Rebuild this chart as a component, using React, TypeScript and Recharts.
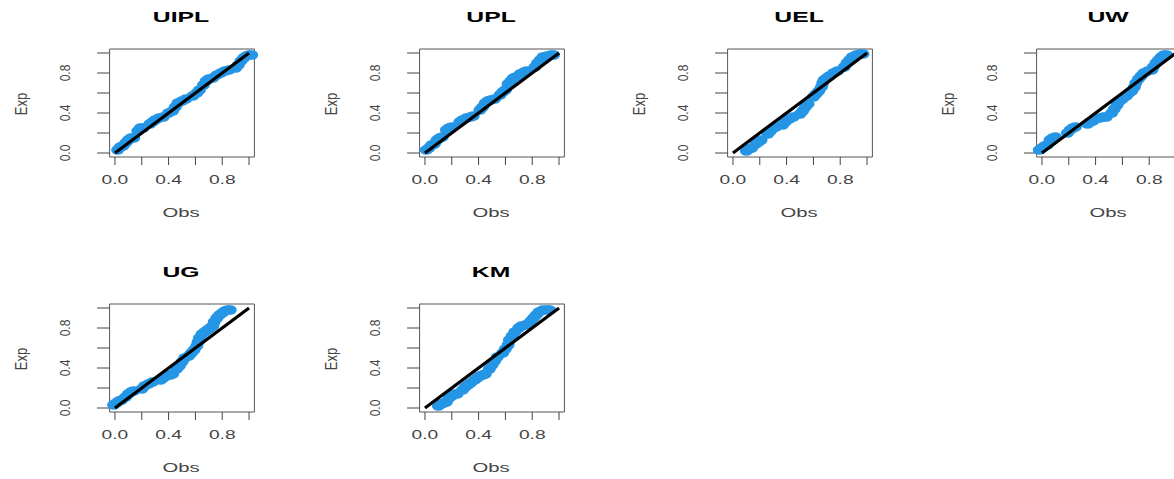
import React from "react";
import { ScatterChart, Scatter, XAxis, YAxis, ReferenceArea } from "recharts";

// P-P plots: observed vs expected probabilities per model
const uiplObs = [0.02, 0.04, 0.06, 0.08, 0.1, 0.12, 0.14, 0.17, 0.19, 0.21, 0.26, 0.28, 0.3, 0.33, 0.36, 0.4, 0.43, 0.45, 0.47, 0.5, 0.53, 0.58, 0.61, 0.63, 0.66, 0.68, 0.7, 0.73, 0.76, 0.79, 0.82, 0.85, 0.9, 0.92, 0.94, 0.96, 0.98, 1.0, 1.02];
const uiplExp = [0.03, 0.06, 0.07, 0.1, 0.13, 0.15, 0.15, 0.22, 0.25, 0.25, 0.29, 0.31, 0.33, 0.35, 0.36, 0.4, 0.42, 0.46, 0.5, 0.52, 0.54, 0.57, 0.6, 0.63, 0.68, 0.72, 0.74, 0.75, 0.78, 0.8, 0.82, 0.83, 0.85, 0.88, 0.92, 0.95, 0.97, 0.98, 0.98];

const uplObs = [0.01, 0.03, 0.05, 0.07, 0.09, 0.11, 0.13, 0.16, 0.18, 0.2, 0.26, 0.28, 0.31, 0.34, 0.36, 0.41, 0.43, 0.45, 0.47, 0.49, 0.52, 0.56, 0.58, 0.6, 0.62, 0.64, 0.66, 0.68, 0.71, 0.74, 0.76, 0.82, 0.84, 0.86, 0.88, 0.91, 0.94, 0.96];
const uplExp = [0.03, 0.05, 0.08, 0.09, 0.13, 0.15, 0.16, 0.23, 0.25, 0.26, 0.31, 0.33, 0.35, 0.36, 0.37, 0.43, 0.46, 0.5, 0.52, 0.53, 0.54, 0.58, 0.61, 0.63, 0.69, 0.72, 0.75, 0.76, 0.79, 0.81, 0.82, 0.86, 0.9, 0.93, 0.96, 0.97, 0.98, 0.98];

const uelObs = [0.1, 0.12, 0.14, 0.17, 0.19, 0.21, 0.26, 0.28, 0.3, 0.32, 0.37, 0.39, 0.42, 0.45, 0.5, 0.52, 0.54, 0.56, 0.6, 0.62, 0.64, 0.66, 0.67, 0.68, 0.7, 0.72, 0.75, 0.78, 0.83, 0.85, 0.87, 0.89, 0.92, 0.95, 0.97];
const uelExp = [0.02, 0.04, 0.05, 0.09, 0.11, 0.13, 0.19, 0.22, 0.25, 0.26, 0.28, 0.31, 0.34, 0.36, 0.39, 0.42, 0.46, 0.49, 0.56, 0.59, 0.62, 0.66, 0.7, 0.73, 0.75, 0.77, 0.8, 0.82, 0.86, 0.9, 0.93, 0.96, 0.98, 0.99, 0.99];

const uwObs = [-0.02, 0.0, 0.02, 0.04, 0.06, 0.08, 0.1, 0.19, 0.21, 0.23, 0.25, 0.34, 0.36, 0.38, 0.4, 0.43, 0.46, 0.48, 0.52, 0.54, 0.56, 0.58, 0.6, 0.63, 0.65, 0.67, 0.69, 0.7, 0.72, 0.74, 0.76, 0.79, 0.82, 0.83, 0.85, 0.87, 0.89, 0.91, 0.93];
const uwExp = [0.03, 0.05, 0.07, 0.08, 0.13, 0.15, 0.16, 0.2, 0.23, 0.25, 0.26, 0.29, 0.31, 0.32, 0.34, 0.35, 0.36, 0.36, 0.4, 0.44, 0.48, 0.52, 0.54, 0.57, 0.6, 0.62, 0.66, 0.7, 0.74, 0.77, 0.8, 0.82, 0.83, 0.86, 0.9, 0.93, 0.96, 0.98, 0.98];

const ugObs = [-0.01, 0.01, 0.03, 0.05, 0.08, 0.1, 0.12, 0.14, 0.2, 0.22, 0.25, 0.28, 0.34, 0.36, 0.38, 0.41, 0.43, 0.46, 0.48, 0.5, 0.52, 0.55, 0.57, 0.59, 0.61, 0.62, 0.63, 0.65, 0.67, 0.69, 0.71, 0.73, 0.74, 0.76, 0.78, 0.8, 0.82, 0.84, 0.86];
const ugExp = [0.03, 0.05, 0.07, 0.08, 0.11, 0.14, 0.16, 0.17, 0.19, 0.22, 0.24, 0.26, 0.28, 0.3, 0.32, 0.33, 0.34, 0.39, 0.42, 0.46, 0.5, 0.52, 0.55, 0.58, 0.62, 0.66, 0.7, 0.74, 0.76, 0.78, 0.8, 0.82, 0.86, 0.9, 0.93, 0.95, 0.97, 0.98, 0.98];

const kmObs = [0.1, 0.12, 0.14, 0.16, 0.18, 0.2, 0.22, 0.24, 0.28, 0.3, 0.32, 0.34, 0.37, 0.39, 0.41, 0.43, 0.45, 0.48, 0.5, 0.52, 0.54, 0.58, 0.6, 0.62, 0.63, 0.65, 0.67, 0.7, 0.72, 0.75, 0.77, 0.79, 0.81, 0.83, 0.85, 0.88, 0.91, 0.93];
const kmExp = [0.02, 0.04, 0.05, 0.06, 0.1, 0.12, 0.14, 0.14, 0.18, 0.21, 0.23, 0.25, 0.28, 0.3, 0.32, 0.33, 0.34, 0.39, 0.43, 0.47, 0.51, 0.55, 0.59, 0.63, 0.68, 0.72, 0.76, 0.8, 0.82, 0.83, 0.84, 0.87, 0.9, 0.93, 0.96, 0.98, 0.98, 0.98];

const panels = [
  { title: "UIPL", obs: uiplObs, exp: uiplExp },
  { title: "UPL", obs: uplObs, exp: uplExp },
  { title: "UEL", obs: uelObs, exp: uelExp },
  { title: "UW", obs: uwObs, exp: uwExp },
  { title: "UG", obs: ugObs, exp: ugExp },
  { title: "KM", obs: kmObs, exp: kmExp },
];

const ticks = [0, 0.2, 0.4, 0.6, 0.8, 1];
const labeledTicks = [0, 0.4, 0.8];
const diagonal = [{ x: 0, y: 0 }, { x: 1, y: 1 }];

const FONT = "'Liberation Sans', Arial, Helvetica, sans-serif";
const BLUE = "#2596e6";
const INK = "#444";

const PANEL_W = 309;
const PANEL_H = 255;
const colLeft = [0, 310, 618, 927];
const rowTop = [0, 255];

function XTick(props: any) {
  const { x, y, payload } = props;
  if (!labeledTicks.includes(payload.value)) return null;
  return (
    <text
      transform={`translate(${x},${y + 19}) scale(1.6,1)`}
      textAnchor="middle"
      fontSize={12}
      fontFamily={FONT}
      fill={INK}
    >
      {payload.value.toFixed(1)}
    </text>
  );
}

function YTick(props: any) {
  const { x, y, payload } = props;
  if (!labeledTicks.includes(payload.value)) return null;
  return (
    <text
      transform={`translate(${x - 27},${y}) scale(1.15,1) rotate(-90)`}
      textAnchor="middle"
      fontSize={12}
      fontFamily={FONT}
      fill={INK}
    >
      {payload.value.toFixed(1)}
    </text>
  );
}

function Blob(props: any) {
  const { cx, cy } = props;
  return <ellipse cx={cx} cy={cy} rx={6.5} ry={4.8} fill={BLUE} />;
}

function Panel({ title, obs, exp }: { title: string; obs: number[]; exp: number[] }) {
  const data = obs.map((o, i) => ({ x: o, y: exp[i] }));
  return (
    <div style={{ position: "relative", width: PANEL_W, height: PANEL_H }}>
      <ScatterChart
        width={PANEL_W}
        height={PANEL_H}
        margin={{ top: 49, right: 54.6, bottom: 58, left: 49.6 }}
      >
        <XAxis
          type="number"
          dataKey="x"
          domain={[-0.04, 1.04]}
          ticks={ticks}
          axisLine={false}
          tickLine={{ stroke: INK }}
          tickSize={8}
          tickMargin={0}
          height={40}
          tick={<XTick />}
          interval={0}
        />
        <YAxis
          type="number"
          dataKey="y"
          domain={[-0.04, 1.04]}
          ticks={ticks}
          axisLine={false}
          tickLine={{ stroke: INK }}
          tickSize={12.5}
          tickMargin={0}
          width={60}
          tick={<YTick />}
          interval={0}
        />
        <ReferenceArea x1={-0.04} x2={1.04} y1={-0.04} y2={1.04} fill="none" stroke="#555" strokeWidth={1} />
        <Scatter data={data} shape={<Blob />} isAnimationActive={false} />
        <Scatter
          data={diagonal}
          line={{ stroke: "#000", strokeWidth: 3.2 }}
          shape={() => <g />}
          isAnimationActive={false}
        />
      </ScatterChart>
      <svg
        width={PANEL_W}
        height={PANEL_H}
        style={{ position: "absolute", left: 0, top: 0, pointerEvents: "none" }}
      >
        <text
          transform="translate(181,22) scale(1.65,1)"
          textAnchor="middle"
          fontSize={15}
          fontWeight="bold"
          fontFamily={FONT}
          fill="#000"
        >
          {title}
        </text>
        <text
          transform="translate(181,217) scale(1.5,1)"
          textAnchor="middle"
          fontSize={13.5}
          fontFamily={FONT}
          fill={INK}
        >
          Obs
        </text>
        <text
          transform="translate(26.6,104) scale(1.25,1) rotate(-90)"
          textAnchor="middle"
          fontSize={13}
          fontFamily={FONT}
          fill={INK}
        >
          Exp
        </text>
      </svg>
    </div>
  );
}

export default function App() {
  return (
    <div
      style={{
        position: "absolute",
        left: 0,
        top: 0,
        width: 1174,
        height: 479,
        overflow: "hidden",
        background: "#fff",
      }}
    >
      {panels.map((p, i) => (
        <div
          key={p.title}
          style={{ position: "absolute", left: colLeft[i % 4], top: rowTop[Math.floor(i / 4)] }}
        >
          <Panel title={p.title} obs={p.obs} exp={p.exp} />
        </div>
      ))}
    </div>
  );
}
